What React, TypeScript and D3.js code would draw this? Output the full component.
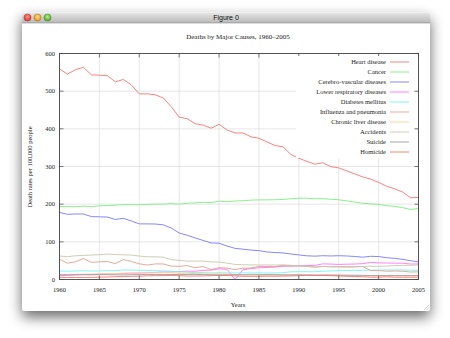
import React from "react";
import * as d3 from "d3";

const years = d3.range(1960, 2006);

const heart = [559.0, 545.3, 556.9, 563.4, 543.3, 542.5, 541.2, 524.7, 531.0, 516.8, 492.7, 492.9, 490.2, 482.0, 458.8, 431.2, 426.9, 413.7, 409.9, 401.6, 412.1, 397.0, 389.0, 388.9, 378.8, 375.0, 365.1, 355.9, 352.5, 332.0, 321.8, 313.8, 306.1, 309.9, 299.7, 296.3, 288.3, 280.4, 272.4, 266.5, 257.6, 247.8, 240.8, 232.3, 217.0, 218.0];
const cancer = [193.9, 193.4, 193.3, 194.7, 193.6, 195.6, 196.5, 197.3, 198.8, 198.5, 198.6, 199.3, 200.3, 200.0, 201.5, 200.1, 202.5, 203.5, 204.9, 204.0, 207.9, 206.4, 208.3, 209.1, 210.8, 211.3, 211.5, 211.7, 212.5, 214.2, 216.0, 215.8, 214.3, 214.6, 213.1, 211.7, 208.7, 205.7, 202.4, 200.8, 199.6, 196.0, 194.3, 190.9, 185.8, 188.5];
const cerebro = [177.9, 173.1, 174.0, 173.9, 167.0, 166.4, 165.8, 159.3, 162.5, 155.4, 147.7, 147.6, 147.3, 145.2, 136.8, 123.5, 117.4, 110.4, 103.7, 97.1, 96.2, 88.8, 82.7, 80.5, 78.1, 76.6, 73.1, 71.6, 70.6, 67.7, 65.3, 62.9, 62.0, 63.1, 62.5, 63.1, 62.5, 61.1, 59.3, 61.6, 60.9, 57.9, 56.2, 53.5, 50.0, 46.6];
const lowerResp = [10.0, 11.0, 12.0, 13.0, 13.0, 14.0, 15.0, 15.0, 16.0, 17.0, 17.0, 18.0, 19.0, 20.0, 20.0, 21.0, 22.0, 22.0, 24.0, 25.0, 28.3, 27.0, 0.0, 26.0, 29.0, 31.0, 32.0, 33.0, 35.0, 35.5, 36.0, 37.0, 37.5, 41.4, 40.9, 40.1, 40.6, 41.1, 42.0, 45.4, 44.2, 43.7, 43.5, 43.3, 41.1, 41.5];
const diabetes = [22.5, 22.1, 22.6, 23.1, 22.5, 22.9, 23.6, 23.4, 25.3, 25.1, 24.3, 23.9, 23.7, 23.0, 22.1, 20.3, 19.5, 18.2, 18.3, 17.5, 18.1, 17.6, 17.2, 17.6, 17.2, 17.4, 17.2, 17.4, 18.0, 20.5, 20.7, 20.7, 20.7, 22.0, 22.7, 23.4, 24.0, 24.0, 24.2, 25.0, 25.0, 25.3, 25.4, 25.3, 24.5, 24.6];
const influenza = [53.7, 43.4, 47.1, 55.6, 45.4, 46.8, 47.9, 42.2, 52.8, 47.9, 41.7, 38.4, 41.3, 41.2, 35.5, 34.9, 36.8, 31.0, 34.5, 26.1, 31.4, 30.0, 26.5, 29.8, 30.6, 34.5, 34.8, 33.8, 37.3, 35.9, 36.8, 34.7, 32.8, 35.0, 33.6, 33.4, 32.9, 33.3, 34.6, 23.6, 23.7, 22.0, 22.6, 22.0, 19.8, 20.3];
const liver = [13.3, 13.3, 13.7, 14.1, 14.3, 14.9, 15.6, 16.0, 16.8, 17.1, 17.8, 17.8, 18.0, 18.1, 17.9, 16.7, 16.4, 15.8, 15.2, 14.5, 15.1, 14.2, 13.2, 12.8, 12.7, 12.3, 11.8, 11.7, 11.6, 11.6, 11.1, 10.7, 10.5, 10.3, 10.2, 10.0, 9.8, 9.6, 9.5, 9.6, 9.5, 9.5, 9.4, 9.3, 9.0, 9.0];
const accidents = [62.3, 60.6, 62.9, 64.0, 65.0, 65.8, 67.6, 66.2, 65.5, 64.9, 62.2, 60.3, 60.2, 59.3, 52.7, 50.8, 48.7, 48.8, 48.9, 46.5, 46.4, 43.4, 40.1, 39.1, 38.8, 38.5, 38.6, 38.2, 38.9, 37.7, 36.3, 34.7, 33.2, 34.2, 34.3, 34.4, 34.5, 34.2, 34.5, 35.3, 34.9, 35.7, 36.9, 37.3, 37.7, 39.1];
const suicide = [12.5, 12.2, 12.8, 13.0, 12.7, 13.0, 12.7, 12.5, 12.4, 12.7, 13.1, 13.1, 13.3, 13.1, 13.2, 13.6, 13.2, 13.7, 12.9, 12.6, 12.2, 12.3, 12.5, 12.4, 12.6, 12.5, 13.0, 12.8, 12.5, 12.3, 12.5, 12.3, 12.1, 12.1, 12.0, 11.8, 11.5, 11.2, 11.1, 10.5, 10.4, 10.7, 10.9, 10.8, 10.9, 10.9];
const homicide = [5.0, 5.2, 5.4, 5.4, 5.7, 6.2, 6.6, 7.4, 7.9, 8.4, 8.8, 9.8, 10.0, 10.2, 10.5, 10.2, 9.2, 9.3, 9.5, 10.2, 10.8, 10.4, 9.7, 8.6, 8.4, 8.3, 9.0, 8.6, 9.0, 9.4, 10.2, 10.9, 10.5, 10.7, 10.3, 9.4, 8.5, 8.0, 7.3, 6.2, 6.1, 7.1, 6.1, 6.0, 5.9, 6.1];

const seriesNames = ["Heart disease", "Cancer", "Cerebro-vascular diseases", "Lower respiratory diseases", "Diabetes mellitus", "Influenza and pneumonia", "Chronic liver disease", "Accidents", "Suicide", "Homicide"];
const seriesValues = [heart, cancer, cerebro, lowerResp, diabetes, influenza, liver, accidents, suicide, homicide];
const seriesColors = ["#ff7272", "#7dee7d", "#7878ff", "#ff72ff", "#72f4f4", "#e0a08c", "#ffd08c", "#c8c6ae", "#9c9c9c", "#ff7272"];

const xTicks = d3.range(1960, 2006, 5);
const yTicks = d3.range(0, 601, 100);

export default function App() {
  const W = 450, H = 338;
  const left = 59.5, right = 418.5, top = 53.5, bottom = 279.5;
  const x = d3.scaleLinear().domain([1960, 2005]).range([left, right]);
  const y = d3.scaleLinear().domain([0, 600]).range([bottom, top]);
  const line = d3.line<number>().x((_, i) => x(years[i])).y((v) => y(v));
  const serif = "'Liberation Serif', 'Times New Roman', serif";
  const winL = 22, winR = 430, winT = 12.5, winB = 311;
  return (
    <div style={{ position: "absolute", left: 0, top: 0 }}>
      <svg width={W} height={H} viewBox={`0 0 ${W} ${H}`} style={{ display: "block" }}>
        <defs>
          <filter id="shadow" x="-20%" y="-20%" width="140%" height="150%">
            <feGaussianBlur in="SourceAlpha" stdDeviation="7" />
            <feOffset dx="0" dy="6" result="b" />
            <feComponentTransfer>
              <feFuncA type="linear" slope="0.6" />
            </feComponentTransfer>
            <feMerge>
              <feMergeNode />
              <feMergeNode in="SourceGraphic" />
            </feMerge>
          </filter>
          <linearGradient id="tb" x1="0" y1="0" x2="0" y2="1">
            <stop offset="0" stopColor="#e6e6e6" />
            <stop offset="1" stopColor="#b8b8b8" />
          </linearGradient>
          <radialGradient id="rRed" cx="0.5" cy="0.4" r="0.6">
            <stop offset="0" stopColor="#ff9a8a" />
            <stop offset="1" stopColor="#d8262a" />
          </radialGradient>
          <radialGradient id="rYel" cx="0.5" cy="0.4" r="0.6">
            <stop offset="0" stopColor="#ffe08a" />
            <stop offset="1" stopColor="#e08a10" />
          </radialGradient>
          <radialGradient id="rGrn" cx="0.5" cy="0.4" r="0.6">
            <stop offset="0" stopColor="#b8f08a" />
            <stop offset="1" stopColor="#4aa020" />
          </radialGradient>
        </defs>
        <rect x={0} y={0} width={W} height={H} fill="#ffffff" />
        <g filter="url(#shadow)">
          <rect x={winL} y={winT} width={winR - winL} height={winB - winT} fill="#ffffff" rx={3} />
        </g>
        <path d={`M${winL},${winT + 3} Q${winL},${winT} ${winL + 3},${winT} L${winR - 3},${winT} Q${winR},${winT} ${winR},${winT + 3} L${winR},23 L${winL},23 Z`} fill="url(#tb)" />
        <line x1={winL} x2={winR} y1={23} y2={23} stroke="#8a8a8a" strokeWidth={0.6} />
        <circle cx={27.5} cy={17.5} r={3.6} fill="url(#rRed)" stroke="#9a3030" strokeWidth={0.4} />
        <circle cx={37.5} cy={17.5} r={3.6} fill="url(#rYel)" stroke="#9a6a20" strokeWidth={0.4} />
        <circle cx={47.5} cy={17.5} r={3.6} fill="url(#rGrn)" stroke="#3a7a20" strokeWidth={0.4} />
        <text x={226} y={20} textAnchor="middle" fontFamily="'Liberation Sans', Arial, sans-serif" fontSize={7} fill="#111">Figure 0</text>

        {/* grid */}
        {xTicks.map((t) => (
          <line key={"gx" + t} x1={x(t)} x2={x(t)} y1={top} y2={bottom} stroke="#dcdcdc" strokeWidth={0.7} />
        ))}
        {yTicks.map((t) => (
          <line key={"gy" + t} x1={left} x2={right} y1={y(t)} y2={y(t)} stroke="#dcdcdc" strokeWidth={0.7} />
        ))}

        {/* series */}
        {seriesValues.map((vals, i) => (
          <path key={seriesNames[i]} d={line(vals) || ""} fill="none" stroke={seriesColors[i]} strokeWidth={0.9} />
        ))}

        {/* frame + ticks */}
        <rect x={left} y={top} width={right - left} height={bottom - top} fill="none" stroke="#444" strokeWidth={0.9} />
        {xTicks.map((t) => (
          <g key={"tx" + t}>
            <line x1={x(t)} x2={x(t)} y1={bottom} y2={bottom - 4} stroke="#444" strokeWidth={0.7} />
            <line x1={x(t)} x2={x(t)} y1={top} y2={top + 4} stroke="#444" strokeWidth={0.7} />
            <text x={x(t)} y={292} textAnchor="middle" fontFamily={serif} fontSize={6.5} fill="#222">{t}</text>
          </g>
        ))}
        {yTicks.map((t) => (
          <g key={"ty" + t}>
            <line x1={left} x2={left + 4} y1={y(t)} y2={y(t)} stroke="#444" strokeWidth={0.7} />
            <line x1={right} x2={right - 4} y1={y(t)} y2={y(t)} stroke="#444" strokeWidth={0.7} />
            <text x={55} y={y(t) + 2.2} textAnchor="end" fontFamily={serif} fontSize={6.5} fill="#222">{t}</text>
          </g>
        ))}

        {/* titles */}
        <text x={238} y={39} textAnchor="middle" fontFamily={serif} fontSize={7} fill="#222">Deaths by Major Causes, 1960–2005</text>
        <text x={238} y={307} textAnchor="middle" fontFamily={serif} fontSize={6.5} fill="#222">Years</text>
        <text transform={`translate(32,167) rotate(-90)`} textAnchor="middle" fontFamily={serif} fontSize={6.5} fill="#222">Death rates per 100,000 people</text>

        {/* legend */}
        <rect x={296} y={56} width={118} height={102} fill="#ffffff" />
        {seriesNames.map((n, i) => (
          <g key={"lg" + n}>
            <text x={386} y={62 + i * 10 + 2.2} textAnchor="end" fontFamily={serif} fontSize={6.5} fill="#222">{n}</text>
            <line x1={390} x2={409} y1={62 + i * 10} y2={62 + i * 10} stroke={seriesColors[i]} strokeWidth={0.9} />
          </g>
        ))}
        {/* resize grip */}
        <g stroke="#b0b0b0" strokeWidth={0.5}>
          <line x1={424} y1={310} x2={429} y2={305} />
          <line x1={426.5} y1={310} x2={429} y2={307.5} />
        </g>
      </svg>
    </div>
  );
}
